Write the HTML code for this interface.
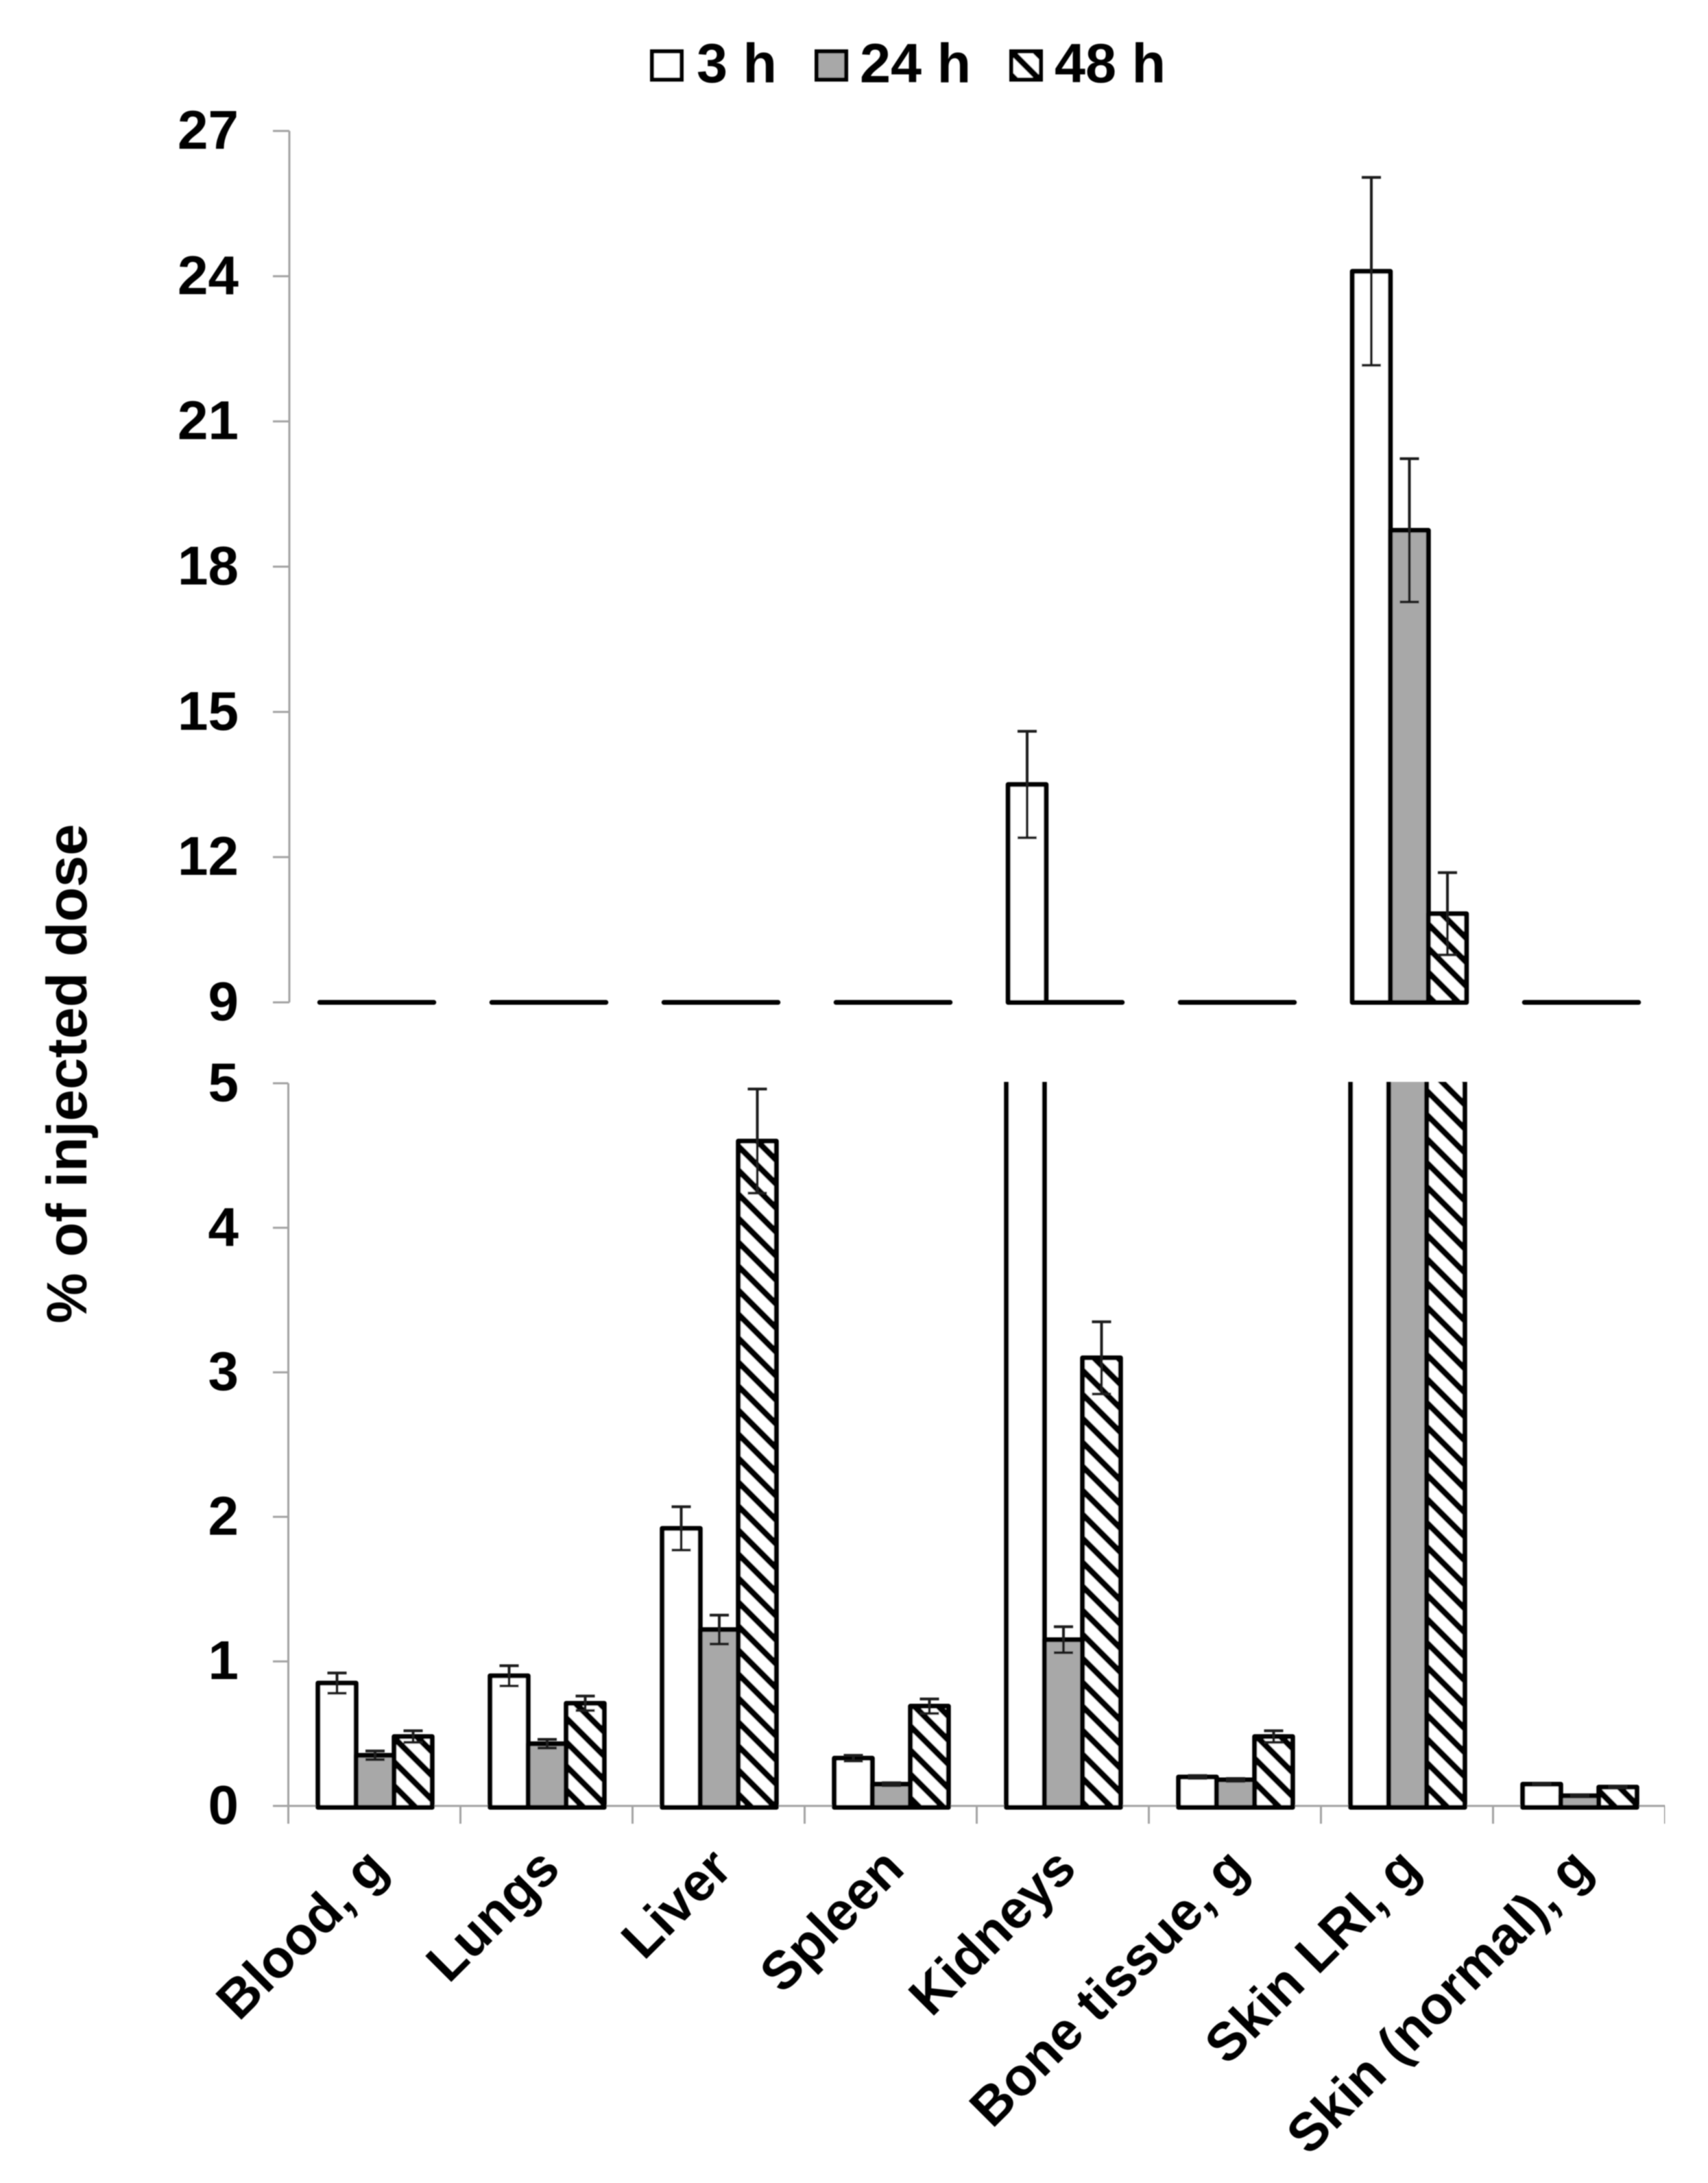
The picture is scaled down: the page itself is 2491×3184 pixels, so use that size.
<!DOCTYPE html>
<html lang="en">
<head>
<meta charset="utf-8">
<title>% of injected dose by organ</title>
<style>
html,body{margin:0;padding:0;background:#fff;}
svg{display:block;}
text{font-family:"Liberation Sans",Arial,sans-serif;font-weight:bold;fill:#000;}
</style>
</head>
<body>
<svg id="chart" xmlns="http://www.w3.org/2000/svg" width="2491" height="3184" viewBox="0 0 2491 3184">
  <defs>
    <pattern id="hatch" patternUnits="userSpaceOnUse" width="35" height="35">
      <rect width="35" height="35" fill="#fff"/>
      <path d="M-9,-9L44,44M-9,26L9,44M26,-9L44,9" stroke="#000" stroke-width="9" fill="none"/>
    </pattern>
    <clipPath id="lower-clip"><rect x="400" y="1578" width="2060" height="1080"/></clipPath>
    <filter id="soften" x="0" y="0" width="100%" height="100%"><feGaussianBlur stdDeviation="0.9"/></filter>
  </defs>
  <rect width="2491" height="3184" fill="#fff"/>

  <g filter="url(#soften)">
  <g font-size="81">
    <g>
      <rect x="951" y="75" width="43" height="41" fill="#fff" stroke="#000" stroke-width="6"/>
      <text x="1016" y="120">3 h</text>
    </g>
    <g>
      <rect x="1191" y="75" width="43" height="41" fill="#a8a8a8" stroke="#000" stroke-width="6"/>
      <text x="1254" y="120">24 h</text>
    </g>
    <g>
      <rect x="1475" y="75" width="43" height="41" fill="url(#hatch)" stroke="#000" stroke-width="6"/>
      <text x="1538" y="120">48 h</text>
    </g>
  </g>

  <text font-size="83" text-anchor="middle" transform="translate(126,1566) rotate(-90)">% of injected dose</text>

  <g id="axes"></g>
  <g id="upper-bars"></g>
  <g id="lower-bars" clip-path="url(#lower-clip)"></g>
  <g id="errors"></g>
  <g id="labels"></g>
  </g>
</svg>

<script>
// ---- data ----
const categories = ["Blood, g", "Lungs", "Liver", "Spleen", "Kidneys", "Bone tissue, g", "Skin LRI, g", "Skin (normal), g"];
const seriesKeys = ["3h", "24h", "48h"];
const values3h  = [0.85, 0.90, 1.92, 0.33, 13.5, 0.20, 24.1, 0.15];
const values24h = [0.35, 0.43, 1.22, 0.15, 1.15, 0.18, 18.75, 0.07];
const values48h = [0.48, 0.71, 4.60, 0.69, 3.10, 0.48, 10.83, 0.13];
const errors3h  = [0.07, 0.07, 0.15, 0.02, 1.10, 0.01, 1.94, 0.005];
const errors24h = [0.03, 0.03, 0.10, 0.01, 0.09, 0.01, 1.48, 0.003];
const errors48h = [0.04, 0.05, 0.36, 0.05, 0.25, 0.04, 0.85, 0.004];
const upperTicks = [9, 12, 15, 18, 21, 24, 27];
const lowerTicks = [0, 1, 2, 3, 4, 5];

// ---- axis functions ----
const seriesValues = [values3h, values24h, values48h];
const seriesErrors = [errors3h, errors24h, errors48h];
const seriesFills = ["#fff", "#a8a8a8", "url(#hatch)"];
const NS = "http://www.w3.org/2000/svg";
const axisLeft = 420.5, catWidth = 251, barWidth = 55.5, upperShift = 2.5, groupShift = 1;
const upperY = v => 1462 - (v - 9) * (1462 - 191) / 18;
const lowerY = v => 2634 - v * (2634 - 1580) / 5;
const groupCenter = i => axisLeft + catWidth * (i + 0.5) + groupShift;
const barLeft = (i, s) => groupCenter(i) + (s - 1.5) * barWidth;
const AXIS_COLOR = "#a3a3a3";

function make(tag, parent, props) {
  const el = document.createElementNS(NS, tag);
  for (const k in props) el.setAttribute(k, props[k]);
  parent.appendChild(el);
  return el;
}
function axisLine(parent, x1, y1, x2, y2) {
  return make("line", parent, {x1, y1, x2, y2, stroke: AXIS_COLOR, "stroke-width": 3});
}
function barPath(x0, x1, top, base) {
  return "M" + x0 + " " + base + "L" + x0 + " " + top + "L" + x1 + " " + top + "L" + x1 + " " + base + "Z";
}
function drawError(parent, cx, yTop, yBottom) {
  const d = "M" + cx + " " + yTop + "L" + cx + " " + yBottom +
    "M" + (cx - 14) + " " + yTop + "L" + (cx + 14) + " " + yTop +
    "M" + (cx - 14) + " " + yBottom + "L" + (cx + 14) + " " + yBottom;
  return make("path", parent, {d, stroke: "#1a1a1a", "stroke-width": 4, fill: "none"});
}

const axes = document.getElementById("axes");
const labels = document.getElementById("labels");
const upperBars = document.getElementById("upper-bars");
const lowerBars = document.getElementById("lower-bars");
const errorsGroup = document.getElementById("errors");

// ---- axes ----
const upperAxis = axisLine(axes, 422, upperY(27), 422, upperY(9));


const lowerAxis = axisLine(axes, axisLeft, lowerY(5), axisLeft, 2660);


const xAxis = axisLine(axes, axisLeft, lowerY(0), axisLeft + catWidth * categories.length, lowerY(0));



upperTicks.forEach(t => {
  const tick = axisLine(axes, 398, upperY(t), 422, upperY(t));
  
  
  const label = make("text", labels, {x: 348, y: upperY(t) + 26, "font-size": 80, "text-anchor": "end"});
  label.textContent = String(t);
  
  
});
lowerTicks.forEach(t => {
  const tick = axisLine(axes, 398, lowerY(t), axisLeft, lowerY(t));
  
  
  const label = make("text", labels, {x: 348, y: lowerY(t) + 26, "font-size": 80, "text-anchor": "end"});
  label.textContent = String(t);
  
  
});
for (let i = 1; i <= categories.length; i++) {
  const tick = axisLine(axes, axisLeft + catWidth * i, lowerY(0), axisLeft + catWidth * i, 2660);
  
  
}
categories.forEach((c, i) => {
  const ax = axisLeft + catWidth * (i + 0.5) + 23, ay = 2729;
  const label = make("text", labels, {"font-size": 78, "text-anchor": "end", transform: "translate(" + ax + "," + ay + ") rotate(-45)"});
  label.textContent = c;
  
  
});

// ---- bars and error bars ----
seriesValues.forEach((vals, s) => {
  vals.forEach((v, i) => {
    const err = seriesErrors[s][i];
    const x0 = barLeft(i, s), x1 = x0 + barWidth, cx = x0 + barWidth / 2;

    const upper = make("path", upperBars, {
      d: barPath(x0 + upperShift, x1 + upperShift, upperY(Math.max(v, 9)), upperY(9)),
      fill: seriesFills[s], stroke: "#000", "stroke-width": 7, "stroke-linejoin": "round"
    });
    
    

    const lower = make("path", lowerBars, {
      d: barPath(x0, x1, lowerY(v), lowerY(0) + 2),
      fill: seriesFills[s], stroke: "#000", "stroke-width": 7, "stroke-linejoin": "round"
    });
    
    

    if (v > 9) {
      const e = drawError(errorsGroup, cx + upperShift, upperY(v + err), upperY(v - err));
      
      
    } else if (v <= 5) {
      const e = drawError(errorsGroup, cx, lowerY(v + err), lowerY(v - err));
      
      
    }
  });
});
</script>
</body>
</html>
